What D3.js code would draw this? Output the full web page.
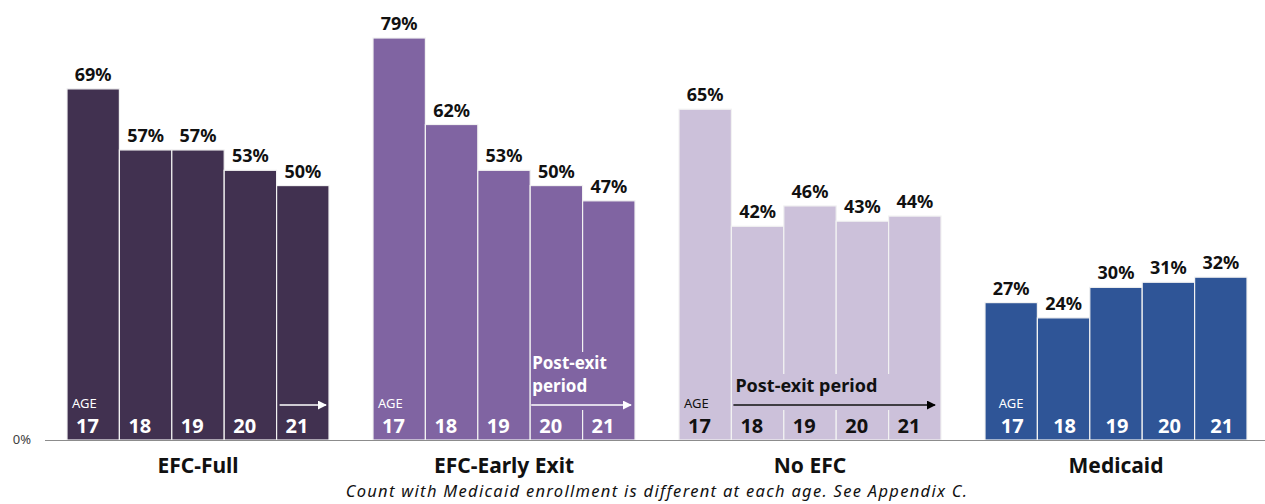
<!DOCTYPE html>
<html>
<head>
<meta charset="utf-8">
<script src="https://cdn.jsdelivr.net/npm/d3@7"></script>
<style>
  body { margin: 0; background: #fff; }
  svg { display: block; font-family: "Noto Sans", "Open Sans", sans-serif; }
</style>
</head>
<body>
<div id="chart"></div>
<script>
// data ---------------------------------------------------
var groups = ["EFC-Full", "EFC-Early Exit", "No EFC", "Medicaid"];
var ages = ["17", "18", "19", "20", "21"];
var efcFull = [69, 57, 57, 53, 50];
var efcEarly = [79, 62, 53, 50, 47];
var noEfc = [65, 42, 46, 43, 44];
var medicaid = [27, 24, 30, 31, 32];
var colors = ["#413150", "#8064a2", "#ccc1da", "#2f5597"];
var ageColors = ["#fff", "#fff", "#111", "#fff"];
var footnote = "Count with Medicaid enrollment is different at each age. See Appendix C.";

var series = [efcFull, efcEarly, noEfc, medicaid];

var W = 1265, H = 504;
var svg = d3.select("#chart").append("svg").attr("width", W).attr("height", H);

var x0 = d3.scaleBand().domain(groups).range([67, 1247]).paddingInner(44 / 306).paddingOuter(0);
var x1 = d3.scaleBand().domain(ages).range([0, x0.bandwidth()]).padding(0);
var y = d3.scaleLinear().domain([0, 79]).range([440, 38]);

// arrow marker
var defs = svg.append("defs");
[["arrW", "#fff"], ["arrB", "#000"]].forEach(function (m) {
  defs.append("marker").attr("id", m[0]).attr("viewBox", "0 0 10 10")
    .attr("refX", 9).attr("refY", 5).attr("markerWidth", 9).attr("markerHeight", 9)
    .attr("markerUnits", "userSpaceOnUse").attr("orient", "auto")
    .append("path").attr("d", "M0,0L10,5L0,10z").attr("fill", m[1]);
});

var g = svg.selectAll("g.grp").data(groups).enter().append("g")
  .attr("class", "grp")
  .attr("transform", function (d) { return "translate(" + x0(d) + ",0)"; });

g.each(function (name, gi) {
  var sel = d3.select(this);
  var vals = series[gi];
  var col = colors[gi];
  var centered = gi == 3;
  var bw = x1.bandwidth();

  sel.selectAll("rect.bar").data(vals).enter().append("rect")
    .attr("class", "bar")
    .attr("x", function (d, i) { return x1(ages[i]); })
    .attr("y", function (d) { return y(d); })
    .attr("width", bw)
    .attr("height", function (d) { return y(0) - y(d); })
    .attr("fill", col)
    .attr("stroke", "#f2f2f2").attr("stroke-width", 1.2);

  sel.selectAll("text.val").data(vals).enter().append("text")
    .attr("class", "val")
    .attr("x", function (d, i) { return x1(ages[i]) + bw / 2; })
    .attr("y", function (d) { return y(d) - 8; })
    .attr("text-anchor", "middle")
    .attr("font-size", 18).attr("font-weight", "bold").attr("fill", "#111")
    .text(function (d) { return d + "%"; });

  // post-exit annotations (boxes hide the bar seams)
  if (gi == 0) {
    sel.append("line")
      .attr("x1", x1("21") + 3).attr("x2", x1("21") + bw - 3)
      .attr("y1", 405).attr("y2", 405)
      .attr("stroke", "#fff").attr("stroke-width", 1.5).attr("marker-end", "url(#arrW)");
  }
  if (gi == 1) {
    sel.append("rect").attr("x", x1("20") + 1).attr("y", 352)
      .attr("width", 2 * bw - 2).attr("height", 58).attr("fill", col);
    sel.append("text").attr("x", x1("20") + 2).attr("y", 369)
      .attr("font-size", 17).attr("font-weight", "bold").attr("fill", "#fff").text("Post-exit");
    sel.append("text").attr("x", x1("20") + 2).attr("y", 392)
      .attr("font-size", 17).attr("font-weight", "bold").attr("fill", "#fff").text("period");
    sel.append("line")
      .attr("x1", x1("20") + 1).attr("x2", x1("21") + bw - 4)
      .attr("y1", 405).attr("y2", 405)
      .attr("stroke", "#fff").attr("stroke-width", 1.5).attr("marker-end", "url(#arrW)");
  }
  if (gi == 2) {
    sel.append("rect").attr("x", x1("18") + 1).attr("y", 374)
      .attr("width", 4 * bw - 2).attr("height", 36).attr("fill", col);
    sel.append("text").attr("x", x1("18") + 4).attr("y", 392)
      .attr("font-size", 18).attr("font-weight", "bold").attr("fill", "#111").text("Post-exit period");
    sel.append("line")
      .attr("x1", x1("18") + 2).attr("x2", x1("21") + bw - 6)
      .attr("y1", 405).attr("y2", 405)
      .attr("stroke", "#111").attr("stroke-width", 1.5).attr("marker-end", "url(#arrB)");
  }

  // "AGE" caption over the first bar
  sel.append("text")
    .attr("x", centered ? x1("17") + bw / 2 : x1("17") + 5)
    .attr("y", 408)
    .attr("text-anchor", centered ? "middle" : "start")
    .attr("font-size", 13).attr("fill", ageColors[gi])
    .text("AGE");

  sel.selectAll("text.age").data(ages).enter().append("text")
    .attr("class", "age")
    .attr("x", function (d) { return centered ? x1(d) + bw / 2 + 1 : x1(d) + 9; })
    .attr("y", 433)
    .attr("text-anchor", centered ? "middle" : "start")
    .attr("font-size", 20).attr("font-weight", "bold").attr("fill", ageColors[gi])
    .text(function (d) { return d; });

  sel.append("text")
    .attr("x", x0.bandwidth() / 2).attr("y", 473)
    .attr("text-anchor", "middle")
    .attr("font-size", 21).attr("font-weight", "bold").attr("fill", "#111")
    .text(name);
});

// axis line ---------------------------------------------------
svg.append("line").attr("x1", 45).attr("x2", W).attr("y1", y(0) + 0.5).attr("y2", y(0) + 0.5)
  .attr("stroke", "#8c8c8c").attr("stroke-width", 1.2);
svg.append("text").attr("x", 31).attr("y", y(0) + 4).attr("text-anchor", "end")
  .attr("font-size", 13).attr("fill", "#404040").text("0%");

svg.append("text").attr("x", 657).attr("y", 497).attr("text-anchor", "middle")
  .attr("font-size", 16.5).attr("letter-spacing", 1.3).attr("font-style", "italic").attr("fill", "#111")
  .text(footnote);
</script>
</body>
</html>
